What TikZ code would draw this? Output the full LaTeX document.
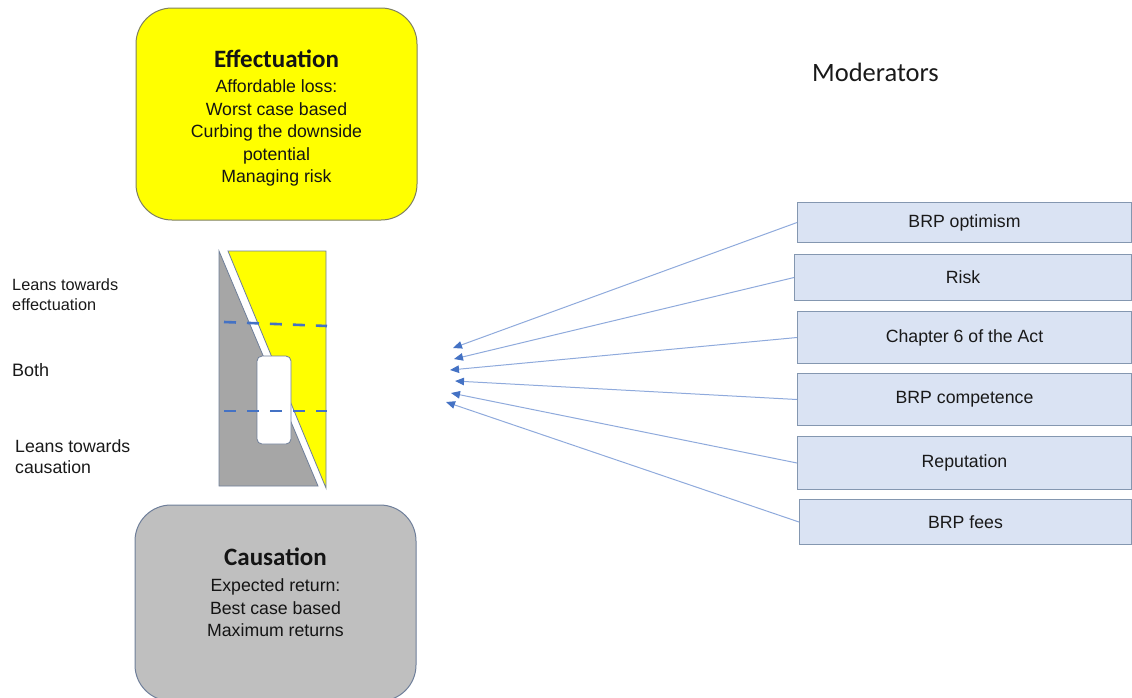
\documentclass[tikz,border=0pt]{standalone}
\usepackage{fontspec}
\setmainfont{Liberation Sans}
\newfontfamily\headfont{Carlito}
\usetikzlibrary{arrows.meta}

\definecolor{effyellow}{HTML}{FFFF00}
\definecolor{effedge}{HTML}{7F8060}
\definecolor{causfill}{HTML}{BFBFBF}
\definecolor{wedgegray}{HTML}{A6A6A6}
\definecolor{slateedge}{HTML}{6F7F9A}
\definecolor{modfill}{HTML}{DAE3F3}
\definecolor{modedge}{HTML}{8497B0}
\definecolor{dashblue}{HTML}{4472C4}
\definecolor{linkblue}{HTML}{8FAADC}

\tikzset{
  bodytext/.style={font=\fontsize{17.7}{22.5}\selectfont, text=black!92},
  bigbox/.style={rounded corners=36pt, line width=1pt, inner sep=0pt},
  modbox/.style={draw=modedge, fill=modfill, line width=1pt, inner sep=0pt,
                 anchor=north west, text=black!90, font=\fontsize{17.7}{20}\selectfont},
  sidelabel/.style={anchor=west, align=left, inner sep=0pt, text=black!90},
  level/.style={draw=dashblue, line width=2.6pt, dash pattern=on 12pt off 11pt},
  link/.style={draw=linkblue, line width=1pt,
               -{Triangle[length=9pt,width=7.5pt,color=dashblue]}},
}

\begin{document}
\begin{tikzpicture}[x=1pt,y=-1pt]
\useasboundingbox (0,0) rectangle (1132,697);

% Effectuation box
\node (eff) [bigbox, draw=effedge, fill=effyellow, minimum width=281pt,
      minimum height=212pt] at (276.5,114) {};
\node (efftext) [align=center, bodytext] at (276.5,118)
  {{\headfont\bfseries\fontsize{25}{27}\selectfont Effectuation}\\[3pt]
   Affordable loss:\\ Worst case based\\ Curbing the downside\\ potential\\ Managing risk};

% Causation box
\node (caus) [bigbox, draw=slateedge, fill=causfill, minimum width=281pt,
      minimum height=196pt] at (275.5,603) {};
\node (caustext) [align=center, bodytext] at (275.5,592.5)
  {{\headfont\bfseries\fontsize{25}{27}\selectfont Causation}\\[4pt]
   Expected return:\\ Best case based\\ Maximum returns};

% Wedge between the two logics
\fill[wedgegray, draw=slateedge, line width=0.8pt] (219,251) -- (219,486) -- (318,486) -- cycle;
\fill[effyellow, draw=slateedge, line width=0.8pt] (228,251) -- (326,251) -- (326,488) -- cycle;
\draw[slateedge, fill=white, line width=0.8pt, rounded corners=5pt] (257,356) rectangle (291,444);
\draw[level] (224,322) -- (327,326);
\draw[level] (224,411) -- (327,411);

% Side labels
\node (leanE) [sidelabel, font=\fontsize{16.3}{19.5}\selectfont] at (12,294.5) {Leans towards\\effectuation};
\node (both) [sidelabel, font=\fontsize{18}{20}\selectfont] at (12,370) {Both};
\node (leanC) [sidelabel, font=\fontsize{17.7}{20.5}\selectfont] at (15,456.5) {Leans towards\\causation};

% Moderators
\node (modtitle) [anchor=west, inner sep=0pt, font=\headfont\fontsize{26.5}{28}\selectfont, text=black!90] at (812,72) {Moderators};

\node (m1) [modbox, minimum width=334pt, minimum height=40pt] at (797,202) {BRP optimism};
\node (m2) [modbox, minimum width=337pt, minimum height=46pt] at (794,254) {Risk};
\node (m3) [modbox, minimum width=334pt, minimum height=52pt] at (797,311) {Chapter 6 of the Act};
\node (m4) [modbox, minimum width=334pt, minimum height=52pt] at (797,373) {BRP competence};
\node (m5) [modbox, minimum width=334pt, minimum height=53pt] at (797,436) {Reputation};
\node (m6) [modbox, minimum width=332pt, minimum height=45pt] at (799,499) {BRP fees};

% Arrow tips gathering at the wedge
\coordinate (t1) at (453,348);
\coordinate (t2) at (454,359);
\coordinate (t3) at (450,370);
\coordinate (t4) at (455,381);
\coordinate (t5) at (451,393);
\coordinate (t6) at (446,402);

\draw[link] (m1.west) -- (t1);
\draw[link] (m2.west) -- (t2);
\draw[link] (m3.west) -- (t3);
\draw[link] (m4.west) -- (t4);
\draw[link] (m5.west) -- (t5);
\draw[link] (m6.west) -- (t6);
\end{tikzpicture}
\end{document}
